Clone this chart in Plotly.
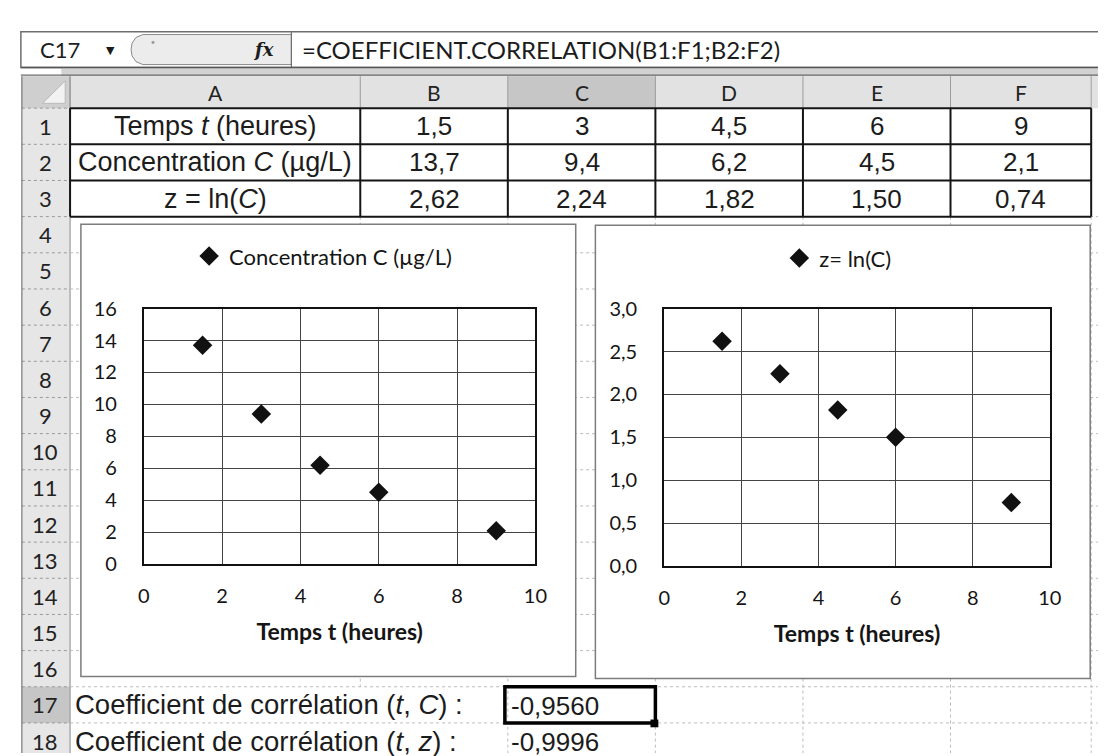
import plotly.graph_objects as go

W, H = 1106, 756

# ---------------- data ----------------
time_h = [1.5, 3, 4.5, 6, 9]
conc = [13.7, 9.4, 6.2, 4.5, 2.1]
z_ln = [2.62, 2.24, 1.82, 1.50, 0.74]
time_labels = ["1,5", "3", "4,5", "6", "9"]
conc_labels = ["13,7", "9,4", "6,2", "4,5", "2,1"]
z_labels = ["2,62", "2,24", "1,82", "1,50", "0,74"]
row_titles = ["Temps <i>t</i> (heures)", "Concentration <i>C</i> (µg/L)", "z = ln(<i>C</i>)"]
col_letters = ["A", "B", "C", "D", "E", "F"]
row_numbers = [str(i) for i in range(1, 19)]
corr_labels = ["Coefficient de corrélation (<i>t</i>, <i>C</i>) :",
               "Coefficient de corrélation (<i>t</i>, <i>z</i>) :"]
corr_values = ["-0,9560", "-0,9996"]
formula = "=COEFFICIENT.CORRELATION(B1:F1;B2:F2)"
cell_name = "C17"
name_c = "Concentration C (µg/L)"
name_z = "z= ln(C)"
x_title = "Temps t (heures)"

# ---------------- geometry helpers ----------------
def X(x):
    return x / W

def Y(y):
    return 1 - y / H

shapes = []
annotations = []

def rect(x0, y0, x1, y1, fill=None, line=None, lw=1.0, dash="solid", layer="below"):
    shapes.append(dict(type="rect", xref="paper", yref="paper",
                       x0=X(x0), x1=X(x1), y0=Y(y1), y1=Y(y0),
                       fillcolor=fill if fill else "rgba(0,0,0,0)",
                       line=dict(color=line if line else "rgba(0,0,0,0)",
                                 width=lw if line else 0, dash=dash),
                       layer=layer))

def seg(x0, y0, x1, y1, color, lw=1.0, dash="solid", layer="below"):
    shapes.append(dict(type="line", xref="paper", yref="paper",
                       x0=X(x0), x1=X(x1), y0=Y(y0), y1=Y(y1),
                       line=dict(color=color, width=lw, dash=dash), layer=layer))

def path(points, fill, line, lw=1.0, layer="below"):
    d = "M " + " L ".join(f"{X(px):.5f},{Y(py):.5f}" for px, py in points) + " Z"
    shapes.append(dict(type="path", xref="paper", yref="paper", path=d,
                       fillcolor=fill, line=dict(color=line, width=lw), layer=layer))

def txt(x, y, s, size, family="Liberation Sans", color="#1c1c1c", xanchor="center"):
    annotations.append(dict(x=X(x), y=Y(y), xref="paper", yref="paper", text=s,
                            showarrow=False, xanchor=xanchor, yanchor="middle",
                            font=dict(family=family, size=size, color=color)))

# column / row layout of the sheet
col_edges = [57, 352, 502, 652, 802, 952, 1095]
row_h = 37.35
row1_top = 90.0
def row_top(k):
    return row1_top + (k - 1) * row_h
def row_mid(k):
    return row_top(k) + row_h / 2
def col_mid(i):
    return (col_edges[i] + col_edges[i + 1]) / 2

# ---------------- formula bar ----------------
rect(7, 11, 1106, 48, fill="white", line="#6e6e6e", lw=1.5)
path([(282, 14), (282, 45), (131, 45), (124, 42), (120, 36), (119, 29.5),
      (120, 23), (124, 17), (131, 14)], fill="#ececec", line="#8a8a8a", lw=1)
seg(282, 11, 282, 48, "#6e6e6e", 1.2)
rect(48, 48, 1106, 57, fill="#d2d2d2", line=None)
seg(7, 48, 1106, 48, "#555555", 1.5)
seg(7, 56, 1106, 56, "#6a6a6a", 1.2)
txt(47, 29.5, cell_name, 22, family="Lato")
txt(98, 30, "▼", 11, family="DejaVu Sans")
txt(141, 22, "•", 10, family="DejaVu Sans", color="#9a9a9a")
txt(254, 29, "<b><i>f</i></b><b><i>x</i></b>", 18, family="DejaVu Serif")
txt(291, 29.5, formula, 24, family="Lato", xanchor="left")

# ---------------- headers ----------------
rect(8, 57, 1106, row1_top, fill="#e2e2e2")
rect(col_edges[2], 57, col_edges[3], row1_top, fill="#c6c6c6")
rect(8, row1_top, 57, 756, fill="#e6e6e6")
rect(8, row_top(17), 57, row_top(18), fill="#c6c6c6")
rect(8, 57, 57, row1_top, fill="#cfcfcf")
path([(52, 62), (52, 85), (29, 85)], fill="#f2f2f2", line="#b0b0b0", lw=0.8)
for xe in col_edges + [1104]:
    seg(xe, 57, xe, row1_top, "#9c9c9c", 1)
for k in range(1, 19):
    seg(8, row_top(k), 57, row_top(k), "#9a9a9a", 1, dash="dot")
seg(8, 57, 8, 756, "#777777", 1.2)
seg(57, 57, 57, 756, "#9a9a9a", 1.2)
for i, c in enumerate(col_letters):
    txt(col_mid(i), 73.5, c, 21, family="Lato", color="#222222")
for k, r in enumerate(row_numbers, start=1):
    txt(32, row_mid(k), r, 22, family="Lato", color="#222222")

# ---------------- cell gridlines ----------------
for k in range(4, 19):
    seg(57, row_top(k), 1106, row_top(k), "#bcbcbc", 1, dash="dot")
for i, xe in enumerate(col_edges[1:] + [1104], start=1):
    y_end = row_top(17) if xe == col_edges[1] else 756
    seg(xe, row_top(4), xe, y_end, "#bcbcbc", 1, dash="dot")

# ---------------- data table (rows 1-3) ----------------
for k in range(1, 5):
    seg(57, row_top(k), col_edges[-1], row_top(k), "#151515", 2)
for xe in col_edges:
    seg(xe, row_top(1), xe, row_top(4), "#151515", 2)
table_rows = [time_labels, conc_labels, z_labels]
for r, (title, vals) in enumerate(zip(row_titles, table_rows), start=1):
    txt(col_mid(0), row_mid(r), title, 27)
    for i, v in enumerate(vals, start=1):
        txt(col_mid(i), row_mid(r), v, 26)

# ---------------- chart frames ----------------
rect(68, 210, 571, 677, fill="white", line="#7c7c7c", lw=1.5)
rect(591, 211, 1094, 679, fill="white", line="#7c7c7c", lw=1.5)

# ---------------- rows 17-18 ----------------
for k, (lab, val) in enumerate(zip(corr_labels, corr_values), start=17):
    txt(60, row_mid(k), lab, 27.5, xanchor="left")
    txt(503, row_mid(k) + 1, val, 26, xanchor="left")
rect(499, row_top(17), 652, row_top(18), line="#000000", lw=3.5, layer="above")
rect(647, row_top(18) - 3.5, 655, row_top(18) + 4.5, fill="#000000", layer="above")

# ---------------- charts ----------------
tick_font = dict(family="Lato", size=20, color="#151515")
title_font = dict(family="Lato", size=23, color="#151515")
marker = dict(symbol="diamond", size=15, color="#111111")

fig = go.Figure()
fig.add_trace(go.Scatter(x=time_h, y=conc, mode="markers", marker=marker,
                         name=name_c, legend="legend", showlegend=True,
                         xaxis="x", yaxis="y"))
fig.add_trace(go.Scatter(x=time_h, y=z_ln, mode="markers", marker=marker,
                         name=name_z, legend="legend2", showlegend=True,
                         xaxis="x2", yaxis="y2"))

def xax(dom, anchor):
    return dict(domain=dom, range=[0, 10], dtick=2, tick0=0, anchor=anchor,
                showgrid=True, gridcolor="#444444", gridwidth=1,
                showline=True, linecolor="#111111", linewidth=2, mirror=True,
                zeroline=False, ticks="", tickfont=tick_font, ticklabelstandoff=13,
                title=dict(text="<b>" + x_title + "</b>", font=title_font, standoff=18),
                fixedrange=True)

def yax(dom, anchor, rng, dt, fmt):
    return dict(domain=dom, range=rng, dtick=dt, tick0=0, anchor=anchor,
                showgrid=True, gridcolor="#444444", gridwidth=1,
                showline=True, linecolor="#111111", linewidth=2, mirror=True,
                zeroline=False, ticks="", tickfont=tick_font, ticklabelstandoff=21,
                tickformat=fmt, fixedrange=True)

legend_common = dict(xanchor="left", yanchor="middle", bgcolor="rgba(0,0,0,0)",
                     borderwidth=0, font=dict(family="Lato", size=22, color="#151515"),
                     itemwidth=30)

fig.update_layout(
    width=W, height=H,
    margin=dict(l=0, r=0, t=0, b=0),
    paper_bgcolor="white", plot_bgcolor="white",
    separators=", ",
    xaxis=xax([X(132), X(530)], "y"),
    yaxis=yax([Y(561), Y(297)], "x", [0, 16], 2, "d"),
    xaxis2=xax([X(661), X(1053)], "y2"),
    yaxis2=yax([Y(563), Y(297)], "x2", [0, 3], 0.5, ".1f"),
    legend=dict(x=X(178), y=Y(243), **legend_common),
    legend2=dict(x=X(778), y=Y(245), **legend_common),
    shapes=shapes,
    annotations=annotations,
)

fig.write_html("out.html")
